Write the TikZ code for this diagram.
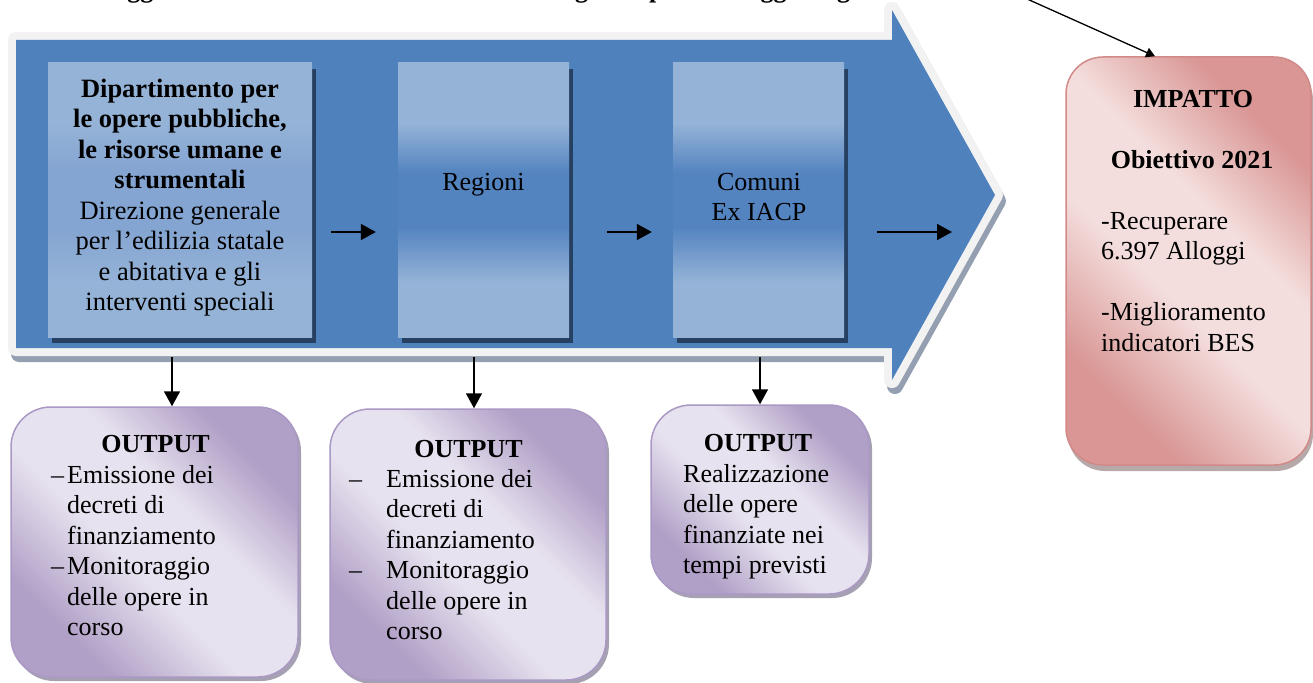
\documentclass[tikz,border=0pt]{standalone}
\usepackage{fontspec}
\setmainfont{Liberation Serif}
\usetikzlibrary{arrows.meta,calc,shadows}

\definecolor{flowblue}{RGB}{79,129,189}
\definecolor{flowrim}{RGB}{242,242,242}
\definecolor{flowshadow}{RGB}{148,160,178}
\definecolor{stagelight}{RGB}{149,179,215}
\definecolor{stagedark}{RGB}{84,132,192}
\definecolor{stagemid}{RGB}{132,164,209}
\definecolor{stageshadow}{RGB}{38,64,98}
\definecolor{outdark}{RGB}{176,159,198}
\definecolor{outlight}{RGB}{231,226,239}
\definecolor{outedge}{RGB}{170,153,196}
\definecolor{outshadow}{RGB}{150,145,165}
\definecolor{impdark}{RGB}{217,150,148}
\definecolor{implight}{RGB}{243,222,221}
\definecolor{impedge}{RGB}{210,138,136}
\definecolor{impshadow}{RGB}{176,160,160}

% vertical fades of the three stage boxes (visible range 25bp..75bp)
\pgfdeclareverticalshading{stageshade}{100bp}{color(0bp)=(stagelight); color(35bp)=(stagelight); color(45bp)=(stagedark); color(55bp)=(stagedark); color(64bp)=(stagelight); color(100bp)=(stagelight)}
\pgfdeclareverticalshading{stageshadesoft}{100bp}{color(0bp)=(stagelight); color(35bp)=(stagelight); color(45bp)=(stagemid); color(55bp)=(stagemid); color(64bp)=(stagelight); color(100bp)=(stagelight)}
% diagonal fades: dark corners, light band through the middle
\pgfdeclarehorizontalshading{outshade}{100bp}{color(0bp)=(outdark); color(27bp)=(outdark); color(44bp)=(outlight); color(58bp)=(outlight); color(73bp)=(outdark); color(100bp)=(outdark)}
\pgfdeclarehorizontalshading{impshade}{100bp}{color(0bp)=(impdark); color(27bp)=(impdark); color(44bp)=(implight); color(58bp)=(implight); color(73bp)=(impdark); color(100bp)=(impdark)}

\tikzset{
  stagebox/.style={rectangle, inner sep=0pt, shading=stageshade,
    drop shadow={shadow xshift=4pt, shadow yshift=-6pt, fill=stageshadow, opacity=1}},
  outbox/.style={rectangle, rounded corners=40pt, draw=outedge, line width=1.5pt,
    shading=outshade, shading angle=45,
    drop shadow={shadow xshift=3pt, shadow yshift=-4pt, fill=outshadow, opacity=0.85}},
  impbox/.style={rectangle, rounded corners=37pt, draw=impedge, line width=1.5pt,
    shading=impshade, shading angle=45,
    drop shadow={shadow xshift=2pt, shadow yshift=-6pt, fill=impshadow, opacity=0.9}},
  txt/.style={inner sep=0pt, font=\fontsize{26}{30.5}\selectfont},
  stagetxt/.style={txt, align=center, anchor=north},
  listtxt/.style={txt, align=left, anchor=north west},
  headtxt/.style={txt, font=\fontsize{26}{30.5}\selectfont\bfseries, anchor=base},
  titletxt/.style={txt, font=\fontsize{26}{30.5}\selectfont\bfseries, anchor=base west},
  flowarrow/.style={line width=1.6pt, -{Triangle[length=15pt,width=16pt]}},
  thinarrow/.style={line width=1.3pt, -{Triangle[length=9pt,width=10pt]}}
}

\begin{document}
\begin{tikzpicture}[x=1pt, y=-1pt]
\useasboundingbox (0,0) rectangle (1313,682);
\fill[white] (0,0) rectangle (1313,682);

% heading line running above the top edge
\node[titletxt] (w1) at (81,-2) {Alloggi};
\node[titletxt] (w2) at (549,-2) {degli};
\node[titletxt] (w3) at (649,-2) {per};
\node[titletxt] (w4) at (720,-2) {alloggi};
\node[titletxt] (w5) at (811,-2) {degli};

% big process arrow: shadow, light rim, blue body
\path[preaction={draw=flowshadow, fill=flowshadow, line width=16pt, line join=round,
      transform canvas={xshift=3pt, yshift=-6pt}},
      preaction={draw=flowrim, line width=16pt, line join=round},
      fill=flowblue]
  (16,40) -- (892,40) -- (892,10) -- (995,195) -- (892,380) -- (892,348) -- (16,348) -- cycle;

% stage boxes
\node[stagebox, shading=stageshadesoft, minimum width=264pt, minimum height=274pt] (b1) at (180,200) {};
\node[stagebox, minimum width=171pt, minimum height=274pt] (b2) at (483.5,200) {};
\node[stagebox, minimum width=171pt, minimum height=274pt] (b3) at (758.5,200) {};

\node[stagetxt, font=\fontsize{26.5}{30.5}\selectfont] (t1) at (180,75.65)
  {\strut\textbf{Dipartimento per}\\\textbf{le opere pubbliche,}\\\textbf{le risorse umane e}\\\textbf{strumentali}\\Direzione generale\\per l’edilizia statale\\e abitativa e gli\\interventi speciali};
\node[stagetxt] (t2) at (483.5,168.65) {\strut Regioni};
\node[stagetxt] (t3) at (759,168.65) {\strut Comuni\\Ex IACP};

% flow between stages
\coordinate (headin) at (952,232);
\draw[flowarrow] ($(b1.east)+(19,32)$) -- ($(b2.west)+(-22,32)$);
\draw[flowarrow] ($(b2.east)+(38,32)$) -- ($(b3.west)+(-21,32)$);
\draw[flowarrow] ($(b3.east)+(33,32)$) -- (headin);

% output boxes
\node[outbox, minimum width=287pt, minimum height=270pt] (o1) at (154.5,542) {};
\node[outbox, minimum width=276pt, minimum height=271pt] (o2) at (468,544.5) {};
\node[outbox, minimum width=218pt, minimum height=189pt] (o3) at (760,499.5) {};

\node[headtxt] (h1) at (155.5,452) {OUTPUT};
\node[headtxt] (h2) at (468.5,457) {OUTPUT};
\node[headtxt] (h3) at (758,451) {OUTPUT};

\node[listtxt] (l1) at (67,461.65)
  {\strut\llap{–\hspace{3pt}}Emissione dei\\decreti di\\finanziamento\\\llap{–\hspace{3pt}}Monitoraggio\\delle opere in\\corso};
\node[listtxt] (l2) at (386,465.65)
  {\strut\llap{–\hspace{24pt}}Emissione dei\\decreti di\\finanziamento\\\llap{–\hspace{24pt}}Monitoraggio\\delle opere in\\corso};
\node[listtxt] (l3) at (683,460.65)
  {\strut Realizzazione\\delle opere\\finanziate nei\\tempi previsti};

% arrows down to the outputs
\coordinate (d1) at (172,357);
\coordinate (d2) at (474,357);
\coordinate (d3) at (760,357);
\draw[flowarrow] (d1) -- (d1 |- o1.north);
\draw[flowarrow] (d2) -- (d2 |- o2.north);
\draw[flowarrow] (d3) -- (d3 |- o3.north);

% impact box
\node[impbox, minimum width=245pt, minimum height=408pt] (imp) at (1188.5,261) {};
\node[headtxt] (i1) at (1193,107) {IMPATTO};
\node[headtxt] (i2) at (1192,168) {Obiettivo 2021};
\node[listtxt] (i3) at (1101,207.65)
  {\strut -Recuperare\\6.397 Alloggi\\[30.5pt]-Miglioramento\\indicatori BES};

\coordinate (src) at (1007,-10);
\draw[thinarrow] (src) -- ($(imp.north)+(-33.5,0)$);
\end{tikzpicture}
\end{document}
